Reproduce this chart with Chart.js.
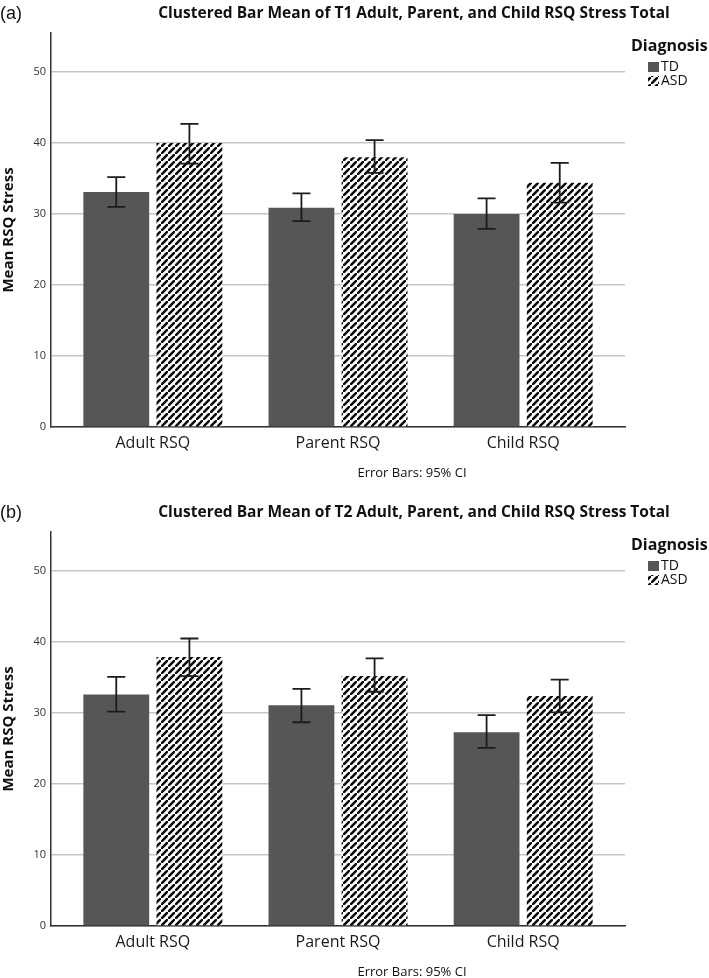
<!DOCTYPE html>
<html>
<head>
<meta charset="utf-8">
<script src="https://cdn.jsdelivr.net/npm/chart.js@4.4.1/dist/chart.umd.min.js"></script>
<style>
  html, body { margin: 0; padding: 0; background: #fff; overflow: hidden; }
  .wrap { position: absolute; left: 0; width: 709px; height: 489px; }
</style>
</head>
<body>
<div class="wrap" style="top:0"><canvas id="chartA" width="709" height="489"></canvas></div>
<div class="wrap" style="top:499px"><canvas id="chartB" width="709" height="489"></canvas></div>
<script>
const categories = ['Adult RSQ', 'Parent RSQ', 'Child RSQ'];
const seriesNames = ['TD', 'ASD'];
const yTicks = [0, 10, 20, 30, 40, 50];

// T1 means and 95% CI
const t1TD = [33.1, 30.9, 30.0];
const t1TDLow = [31.0, 29.0, 27.9];
const t1TDHigh = [35.2, 32.9, 32.2];
const t1ASD = [40.0, 38.0, 34.4];
const t1ASDLow = [37.1, 35.8, 31.6];
const t1ASDHigh = [42.7, 40.4, 37.2];

// T2 means and 95% CI
const t2TD = [32.6, 31.1, 27.3];
const t2TDLow = [30.2, 28.7, 25.1];
const t2TDHigh = [35.1, 33.4, 29.7];
const t2ASD = [37.9, 35.2, 32.4];
const t2ASDLow = [35.2, 33.0, 30.1];
const t2ASDHigh = [40.5, 37.7, 34.7];

const FONT = '"Open Sans", "DejaVu Sans", sans-serif';
const tdColor = '#565656';

function makeHatch() {
  const n = 7;
  const c = document.createElement('canvas');
  c.width = n; c.height = n;
  const g = c.getContext('2d');
  g.fillStyle = '#fff';
  g.fillRect(0, 0, n, n);
  g.strokeStyle = '#0d0d0d';
  g.lineWidth = 2.6;
  g.beginPath();
  g.moveTo(-1, n + 1); g.lineTo(n + 1, -1);
  g.moveTo(-n - 1, 1); g.lineTo(1, -n - 1);
  g.moveTo(n - 1, 2 * n + 1); g.lineTo(2 * n + 1, n - 1);
  g.stroke();
  return g.createPattern(c, 'repeat');
}
const hatch = makeHatch();

const errorBars = {
  id: 'errorBars',
  afterDatasetsDraw(chart) {
    const ctx = chart.ctx;
    const y = chart.scales.y;
    ctx.save();
    ctx.strokeStyle = '#1c1c1c';
    ctx.lineWidth = 1.8;
    chart.data.datasets.forEach((ds, di) => {
      chart.getDatasetMeta(di).data.forEach((bar, i) => {
        const top = y.getPixelForValue(ds.high[i]);
        const bot = y.getPixelForValue(ds.low[i]);
        ctx.beginPath();
        ctx.moveTo(bar.x, top); ctx.lineTo(bar.x, bot);
        ctx.moveTo(bar.x - 9, top); ctx.lineTo(bar.x + 9, top);
        ctx.moveTo(bar.x - 9, bot); ctx.lineTo(bar.x + 9, bot);
        ctx.stroke();
      });
    });
    ctx.restore();
  }
};

const annotations = {
  id: 'annotations',
  afterDraw(chart, args, opts) {
    const ctx = chart.ctx;
    ctx.save();
    ctx.textBaseline = 'middle';
    ctx.fillStyle = '#111';
    ctx.textAlign = 'left';
    ctx.font = '18px "Liberation Sans", sans-serif';
    ctx.fillText(opts.panel, 0, 14);
    ctx.textAlign = 'center';
    ctx.font = 'bold 15.5px ' + FONT;
    ctx.fillText(opts.title, 414, 14, 530);
    // legend
    ctx.textAlign = 'left';
    ctx.font = 'bold 16px ' + FONT;
    ctx.fillText('Diagnosis', 631, 46);
    ctx.fillStyle = tdColor;
    ctx.fillRect(648, 62, 11, 10);
    ctx.fillStyle = hatch;
    ctx.fillRect(648, 76, 11, 10);
    ctx.fillStyle = '#111';
    ctx.font = '14px ' + FONT;
    ctx.fillText(seriesNames[0], 661, 67);
    ctx.fillText(seriesNames[1], 661, 81);
    // footnote
    ctx.textAlign = 'center';
    ctx.font = '13px ' + FONT;
    ctx.fillText('Error Bars: 95% CI', 412, 473);
    ctx.restore();
  }
};

function makeChart(id, panel, title, td, tdLow, tdHigh, asd, asdLow, asdHigh) {
  const ctx = document.getElementById(id).getContext('2d');
  return new Chart(ctx, {
    type: 'bar',
    data: {
      datasets: [{
        label: seriesNames[0],
        data: td.map((v, i) => ({ x: i, y: v })),
        low: tdLow, high: tdHigh,
        backgroundColor: tdColor,
        borderWidth: 0
      }, {
        label: seriesNames[1],
        data: asd.map((v, i) => ({ x: i, y: v })),
        low: asdLow, high: asdHigh,
        backgroundColor: hatch,
        borderWidth: 0
      }]
    },
    options: {
      responsive: false,
      animation: false,
      categoryPercentage: 0.79,
      barPercentage: 0.9,
      layout: { padding: { top: 33, right: 84, left: 0, bottom: 0 } },
      plugins: {
        legend: { display: false },
        tooltip: { enabled: false },
        annotations: { panel: panel, title: title }
      },
      scales: {
        x: {
          type: 'linear',
          offset: false,
          min: -0.55,
          max: 2.55,
          afterBuildTicks: s => { s.ticks = categories.map((c, i) => ({ value: i })); },
          afterFit: s => { s.height = 62; },
          grid: { display: false, drawTicks: false },
          border: { display: true, color: '#333', width: 1.5 },
          ticks: {
            callback: v => categories[v],
            font: { family: FONT, size: 16 },
            color: '#1a1a1a',
            padding: 7,
            maxRotation: 0
          }
        },
        y: {
          min: 0,
          max: 55.5,
          afterBuildTicks: s => { s.ticks = yTicks.map(v => ({ value: v })); },
          afterFit: s => { s.width = 51; },
          grid: { color: '#c6c6c6', lineWidth: 1.5, drawTicks: false },
          border: { display: true, color: '#333', width: 1.5 },
          ticks: {
            font: { family: FONT, size: 11 },
            color: '#333',
            padding: 5
          },
          title: {
            display: true,
            text: 'Mean RSQ Stress',
            font: { family: FONT, size: 15, weight: 'bold' },
            color: '#111',
            padding: { top: 0, bottom: 2 }
          }
        }
      }
    },
    plugins: [errorBars, annotations]
  });
}

makeChart('chartA', '(a)', 'Clustered Bar Mean of T1 Adult, Parent, and Child RSQ Stress Total',
  t1TD, t1TDLow, t1TDHigh, t1ASD, t1ASDLow, t1ASDHigh);
makeChart('chartB', '(b)', 'Clustered Bar Mean of T2 Adult, Parent, and Child RSQ Stress Total',
  t2TD, t2TDLow, t2TDHigh, t2ASD, t2ASDLow, t2ASDHigh);
</script>
</body>
</html>
